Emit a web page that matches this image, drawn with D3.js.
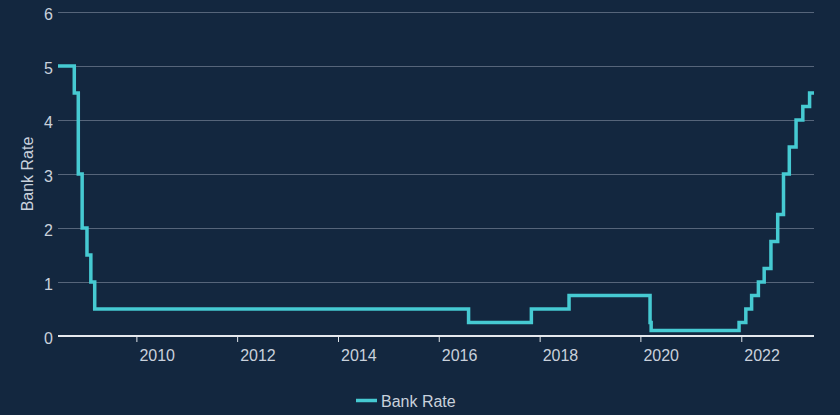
<!DOCTYPE html>
<html>
<head>
<meta charset="utf-8">
<script src="https://cdn.jsdelivr.net/npm/d3@7"></script>
<style>
  html, body { margin: 0; padding: 0; background: #13273f; }
  svg { display: block; }
  text { font-family: "Liberation Sans", Arial, sans-serif; }
</style>
</head>
<body>
<svg id="chart" width="840" height="415"></svg>
<script>
// Bank Rate change dates and the rate (%) in force from that date
const dates = [
  "2008-06-12", "2008-10-08", "2008-11-06", "2008-12-04", "2009-01-08",
  "2009-02-05", "2009-03-05", "2016-08-04", "2017-11-02", "2018-08-02",
  "2020-03-11", "2020-03-19", "2021-12-16", "2022-02-03", "2022-03-17",
  "2022-05-05", "2022-06-16", "2022-08-04", "2022-09-22", "2022-11-03",
  "2022-12-15", "2023-02-02", "2023-03-23", "2023-05-11", "2023-06-12"
];
const rates = [
  5.0, 4.5, 3.0, 2.0, 1.5,
  1.0, 0.5, 0.25, 0.5, 0.75,
  0.25, 0.1, 0.25, 0.5, 0.75,
  1.0, 1.25, 1.75, 2.25, 3.0,
  3.5, 4.0, 4.25, 4.5, 4.5
];
const yTicks = [0, 1, 2, 3, 4, 5, 6];
const xTickYears = [2010, 2012, 2014, 2016, 2018, 2020, 2022];
const seriesName = "Bank Rate";
const yTitle = "Bank Rate";

(function () {
const parse = d3.timeParse("%Y-%m-%d");
const data = dates.map((d, i) => ({ date: parse(d), value: rates[i] }));

const svg = d3.select("#chart");
const mLeft = 58, mRight = 814, mTop = 12, mBottom = 336;

const x = d3.scaleTime()
  .domain(d3.extent(data, d => d.date))
  .range([mLeft, mRight]);
const y = d3.scaleLinear().domain([0, 6]).range([mBottom, mTop]);

const textColor = "#c9d1dc";

// gridlines
svg.append("g")
  .selectAll("line")
  .data(yTicks.filter(t => t > 0))
  .join("line")
  .attr("x1", mLeft).attr("x2", mRight)
  .attr("y1", d => y(d) + 0.5).attr("y2", d => y(d) + 0.5)
  .attr("stroke", "#56657a")
  .attr("stroke-width", 1);

// y labels
svg.append("g")
  .selectAll("text")
  .data(yTicks)
  .join("text")
  .attr("x", 53)
  .attr("y", d => y(d) + 8)
  .attr("text-anchor", "end")
  .attr("font-size", 16)
  .attr("fill", textColor)
  .text(d => d);

// y title
svg.append("text")
  .attr("transform", `translate(33,${(mTop + mBottom) / 2}) rotate(-90)`)
  .attr("text-anchor", "middle")
  .attr("font-size", 16)
  .attr("fill", textColor)
  .text(yTitle);

// x axis
const xTicks = xTickYears.map(yr => new Date(yr, 0, 1));
const xAxis = d3.axisBottom(x)
  .tickValues(xTicks)
  .tickSize(6)
  .tickFormat(d3.timeFormat("%Y"));
const gx = svg.append("g").attr("transform", `translate(0,${mBottom})`).call(xAxis);
gx.select(".domain").remove();
gx.selectAll(".tick line").attr("stroke", "#dfe3e8").attr("stroke-width", 1);
gx.selectAll(".tick text")
  .attr("text-anchor", "start")
  .attr("x", 2.5)
  .attr("y", 24.5)
  .attr("dy", null)
  .attr("font-size", 16)
  .attr("font-family", "Liberation Sans, Arial, sans-serif")
  .attr("fill", textColor);

// axis baseline
svg.append("line")
  .attr("x1", mLeft).attr("x2", mRight)
  .attr("y1", mBottom).attr("y2", mBottom)
  .attr("stroke", "#e6e9ee")
  .attr("stroke-width", 2);

// series line
const line = d3.line()
  .x(d => x(d.date))
  .y(d => y(d.value))
  .curve(d3.curveStepAfter);

svg.append("path")
  .datum(data)
  .attr("d", line)
  .attr("fill", "none")
  .attr("stroke", "#46cad2")
  .attr("stroke-width", 3.5)
  .attr("stroke-linejoin", "miter");

// legend
const lg = svg.append("g");
lg.append("line")
  .attr("x1", 356).attr("x2", 377)
  .attr("y1", 400.5).attr("y2", 400.5)
  .attr("stroke", "#46cad2")
  .attr("stroke-width", 3.5);
lg.append("text")
  .attr("x", 381)
  .attr("y", 406.5)
  .attr("font-size", 16)
  .attr("fill", textColor)
  .text(seriesName);
})();
</script>
</body>
</html>
